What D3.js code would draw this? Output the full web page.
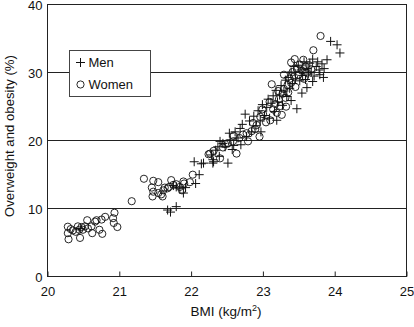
<!DOCTYPE html>
<html>
<head>
<meta charset="utf-8">
<script src="https://cdn.jsdelivr.net/npm/d3@7"></script>
<style>
body { margin: 0; background: #fff; }
svg { font-family: "Liberation Sans", Arial, sans-serif; }
</style>
</head>
<body>
<svg id="chart" width="414" height="327"></svg>
<script>
// ---- data: [BMI, overweight and obesity %] ----
var women = [
  [20.29,7.25],[20.29,6.3],[20.30,5.4],[20.33,6.9],[20.36,6.7],[20.40,6.5],[20.43,7.3],[20.45,6.8],
  [20.46,5.6],[20.48,7.2],[20.50,6.8],[20.53,7.3],[20.56,8.2],[20.57,7.0],[20.62,7.3],[20.63,6.3],
  [20.67,8.0],[20.69,8.2],[20.73,6.8],[20.76,8.3],[20.77,6.2],[20.81,8.7],[20.92,8.5],[20.94,9.3],
  [20.93,7.8],[20.98,7.2],[21.18,11.0],
  [21.35,14.3],[21.48,14.0],[21.55,13.8],[21.46,13.0],[21.48,12.4],[21.47,11.7],[21.55,12.2],[21.61,11.7],
  [21.62,12.6],[21.64,13.0],[21.70,13.1],[21.73,14.1],[21.76,13.4],[21.80,13.5],[21.85,13.1],[21.90,13.9],
  [21.91,13.6],[21.99,13.8],[22.03,14.9],[21.59,12.0],[21.68,12.9],[21.88,12.6],
  [22.25,17.9],[22.27,18.0],[22.32,18.4],[22.41,17.3],[22.45,18.9],[22.52,19.5],[22.59,19.8],[22.64,18.0],
  [22.68,20.3],[22.73,20.8],[22.78,21.0],[22.80,19.8],[22.87,22.5],[22.90,21.6],[22.96,20.5],[22.97,23.4],
  [23.01,23.8],[23.05,22.6],[23.11,22.9],[23.13,28.2],[23.15,24.5],[23.18,25.3],[23.20,24.0],[23.23,26.0],
  [23.25,25.0],[23.28,26.8],[23.30,27.5],[23.32,26.2],[23.35,28.1],[23.36,27.0],[23.38,29.0],[23.40,28.4],
  [23.42,30.0],[23.44,29.3],[23.46,27.8],[23.48,30.5],[23.50,29.6],[23.52,31.1],[23.55,30.2],[23.57,31.8],
  [23.60,30.8],[23.62,29.9],[23.65,31.0],[23.71,33.2],[23.81,35.3],[23.40,31.4],[23.30,29.6],[23.22,27.2],
  [23.10,25.6],[23.00,24.5],[22.92,22.2],[22.85,21.3],[22.60,20.6],[22.48,19.4],[23.45,31.9],[23.58,29.0],
  [23.68,30.4],[23.33,24.9],[23.27,23.7]
];
var men = [
  [20.47,7.0],
  [21.68,9.7],[21.72,9.4],[21.80,10.2],
  [21.76,13.3],[21.80,13.1],[21.85,12.9],[21.90,12.2],[21.93,13.0],[22.07,13.6],[22.12,14.9],[22.05,16.8],
  [22.15,16.5],[22.31,16.6],[22.31,17.1],[22.18,16.6],[22.29,17.8],[22.32,16.8],[22.35,18.5],[22.38,19.0],
  [22.41,19.8],[22.45,19.5],[22.48,19.0],[22.52,16.6],[22.54,21.0],[22.55,20.0],[22.60,19.2],[22.62,21.2],
  [22.66,20.3],[22.69,21.7],[22.72,22.3],[22.76,23.8],[22.78,20.5],[22.82,22.8],[22.85,21.2],[22.88,23.5],
  [22.91,22.1],[22.94,24.3],[22.97,22.8],[23.00,25.2],[23.03,23.6],[23.06,24.8],[23.08,26.0],[23.10,23.2],
  [23.12,25.4],[23.15,26.5],[23.17,24.2],[23.19,27.3],[23.21,25.6],[23.24,26.6],[23.26,28.0],[23.28,25.1],
  [23.30,27.2],[23.32,28.8],[23.34,26.4],[23.36,29.2],[23.38,27.6],[23.40,30.0],[23.42,28.3],[23.44,30.8],
  [23.46,29.0],[23.48,24.6],[23.50,31.0],[23.52,28.7],[23.54,30.3],[23.56,29.5],[23.58,31.5],[23.60,28.9],
  [23.62,30.5],[23.64,29.7],[23.66,31.3],[23.68,30.0],[23.70,31.9],[23.72,29.4],[23.75,30.8],[23.77,31.5],
  [23.79,30.3],[23.80,29.6],[23.83,31.2],[23.86,30.5],[23.90,31.8],[23.95,34.5],[24.04,34.0],[24.08,32.8],
  [23.62,27.7],[23.40,25.8],[23.20,22.9],[22.98,21.2],[22.70,19.3],[22.40,17.6],[22.58,18.6],[23.55,26.9],
  [23.85,29.2],[23.70,28.6]
];
var xTicks = [20, 21, 22, 23, 24, 25];
var yTicks = [0, 10, 20, 30, 40];
var gridLines = [10, 20, 30];
var legendItems = ["Men", "Women"];

// ---- layout ----
var plotL = 47, plotR = 406, plotT = 4, plotB = 276;
var svg = d3.select("#chart");

var xs = d3.scaleLinear().domain([20, 25]).range([plotL, plotR]);
var ys = d3.scaleLinear().domain([0, 40]).range([plotB, plotT]);

// gridlines
svg.append("g").selectAll("line")
  .data(gridLines).enter().append("line")
  .attr("x1", plotL).attr("x2", plotR)
  .attr("y1", d => Math.round(ys(d)) + 0.5).attr("y2", d => Math.round(ys(d)) + 0.5)
  .attr("stroke", "#222").attr("stroke-width", 1);

// frame
svg.append("rect")
  .attr("x", plotL + 0.5).attr("y", plotT + 0.5)
  .attr("width", plotR - plotL).attr("height", plotB - plotT)
  .attr("fill", "none").attr("stroke", "#222");

// x axis (ticks inward)
var xAxis = svg.append("g")
  .attr("transform", "translate(0.5," + (plotB + 0.5) + ")")
  .call(d3.axisBottom(xs).tickValues(xTicks).tickFormat(d3.format("d"))
    .tickSizeInner(-5).tickSizeOuter(0).tickPadding(10));
xAxis.select(".domain").remove();
xAxis.selectAll("line").attr("stroke", "#222");
xAxis.selectAll("text").attr("font-size", 13).attr("fill", "#111")
  .attr("font-family", "Liberation Sans, Arial, sans-serif");

// y axis
var yAxis = svg.append("g")
  .attr("transform", "translate(" + (plotL + 0.5) + ",1.5)")
  .call(d3.axisLeft(ys).tickValues(yTicks).tickSize(0).tickPadding(5));
yAxis.select(".domain").remove();
yAxis.selectAll("text").attr("font-size", 13).attr("fill", "#111")
  .attr("font-family", "Liberation Sans, Arial, sans-serif");

// women: circles
svg.append("g").selectAll("circle")
  .data(women).enter().append("circle")
  .attr("cx", d => xs(d[0])).attr("cy", d => ys(d[1]))
  .attr("r", 3.6)
  .attr("fill", "none").attr("stroke", "#111").attr("stroke-width", 0.9);

// men: plus signs
svg.append("g").selectAll("path")
  .data(men).enter().append("path")
  .attr("transform", d => "translate(" + xs(d[0]) + "," + ys(d[1]) + ")")
  .attr("d", "M-4.5,0H4.5M0,-4.5V4.5")
  .attr("fill", "none").attr("stroke", "#111").attr("stroke-width", 1);

// legend
var lg = svg.append("g").attr("transform", "translate(69.5,50.5)");
lg.append("rect").attr("width", 81).attr("height", 46)
  .attr("fill", "#fff").attr("stroke", "#444");
var li = lg.selectAll("g.item").data(legendItems).enter().append("g")
  .attr("transform", (d, i) => "translate(11," + (12 + i * 22) + ")");
li.filter((d, i) => i === 0).append("path")
  .attr("d", "M-4.5,0H4.5M0,-4.5V4.5").attr("stroke", "#111").attr("fill", "none");
li.filter((d, i) => i === 1).append("circle")
  .attr("r", 3.6).attr("fill", "none").attr("stroke", "#111").attr("stroke-width", 0.9);
li.append("text").attr("x", 8).attr("dy", "0.36em")
  .attr("font-size", 13).attr("fill", "#111").text(d => d);

// axis titles
var xt = svg.append("text").attr("x", 226).attr("y", 316)
  .attr("text-anchor", "middle").attr("font-size", 13.5).attr("fill", "#111");
xt.append("tspan").text("BMI (kg/m");
xt.append("tspan").attr("font-size", 9).attr("dy", -5).text("2");
xt.append("tspan").attr("dy", 5).text(")");

svg.append("text")
  .attr("transform", "translate(14,136) rotate(-90)")
  .attr("text-anchor", "middle").attr("font-size", 13.2).attr("fill", "#111")
  .text("Overweight and obesity (%)");
</script>
</body>
</html>
